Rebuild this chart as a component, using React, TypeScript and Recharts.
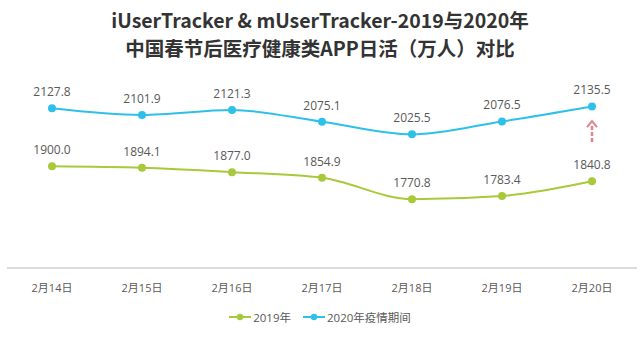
import React from 'react';
import { LineChart, Line, XAxis, YAxis, LabelList, Legend, ReferenceLine } from 'recharts';

const categories = ['2月14日', '2月15日', '2月16日', '2月17日', '2月18日', '2月19日', '2月20日'];
const series2019 = [1900.0, 1894.1, 1877.0, 1854.9, 1770.8, 1783.4, 1840.8];
const series2020 = [2127.8, 2101.9, 2121.3, 2075.1, 2025.5, 2076.5, 2135.5];
const seriesNames = ['2019年', '2020年疫情期间'];
const arrowFrom = 1990;
const arrowTo = 2078;

const data = categories.map((c, i) => ({ name: c, a: series2019[i], b: series2020[i] }));

const GREEN = '#a8c93a';
const BLUE = '#2ec0e8';

const ArrowShape = (props: any) => {
  const { x1, y1, x2, y2 } = props;
  if (x1 == null) return null;
  const top = Math.min(y1, y2);
  const bottom = Math.max(y1, y2);
  return (
    <g>
      <line x1={x1} y1={top + 5} x2={x1} y2={bottom} stroke="#e8808c" strokeWidth={2.5} strokeDasharray="4 2" />
      <path d={`M${x1 - 5},${top + 6} L${x1},${top} L${x1 + 5},${top + 6}`} fill="none" stroke="#e8808c" strokeWidth={2} />
    </g>
  );
};

const renderLegend = () => (
  <div style={{ display: 'flex', justifyContent: 'center', alignItems: 'center', fontSize: 11.5, color: '#595959', fontFamily: '"Open Sans", "Noto Sans CJK SC", sans-serif' }}>
    {[GREEN, BLUE].map((col, i) => (
      <div key={i} style={{ display: 'flex', alignItems: 'center', marginRight: i === 0 ? 12 : 0 }}>
        <svg width={22} height={10}>
          <line x1={0} y1={5} x2={22} y2={5} stroke={col} strokeWidth={2} />
          <circle cx={11} cy={5} r={3.2} fill={col} />
        </svg>
        <span style={{ marginLeft: 2 }}>{seriesNames[i]}</span>
      </div>
    ))}
  </div>
);

export default function App() {
  return (
    <div style={{ position: 'absolute', left: 0, top: 0, width: 640, height: 355, background: '#fff' }}>
      <div style={{ position: 'absolute', top: 6, left: 0, width: 640, textAlign: 'center', fontFamily: '"Noto Sans CJK SC", "Open Sans", sans-serif', fontWeight: 700, fontSize: 19.5, lineHeight: '28px', color: '#333' }}>
        <div>iUserTracker &amp; mUserTracker-2019与2020年</div>
        <div>中国春节后医疗健康类APP日活（万人）对比</div>
      </div>
      <LineChart width={640} height={355} data={data} margin={{ top: 90, right: 3, left: 7, bottom: 41 }}>
        <XAxis dataKey="name" padding={{ left: 45, right: 45 }} axisLine={{ stroke: '#d0d0d0', strokeWidth: 1.5 }} tickLine={false} tick={{ fill: '#595959', fontSize: 11, fontFamily: '"Open Sans", "Noto Sans CJK SC", sans-serif' }} tickMargin={10} height={30} />
        <YAxis hide domain={[1500, 2200]} />
        <ReferenceLine segment={[{ x: '2月20日', y: arrowFrom }, { x: '2月20日', y: arrowTo }]} shape={ArrowShape} />
        <Line type="monotone" dataKey="a" name={seriesNames[0]} stroke={GREEN} strokeWidth={2} dot={{ r: 4, fill: GREEN, stroke: GREEN, strokeWidth: 0 }} isAnimationActive={false}>
          <LabelList dataKey="a" position="top" offset={12} formatter={(v: any) => Number(v).toFixed(1)} style={{ fill: '#595959', fontSize: 12, fontFamily: '"Open Sans", sans-serif' }} />
        </Line>
        <Line type="monotone" dataKey="b" name={seriesNames[1]} stroke={BLUE} strokeWidth={2} dot={{ r: 4, fill: BLUE, stroke: BLUE, strokeWidth: 0 }} isAnimationActive={false}>
          <LabelList dataKey="b" position="top" offset={12} formatter={(v: any) => Number(v).toFixed(1)} style={{ fill: '#595959', fontSize: 12, fontFamily: '"Open Sans", sans-serif' }} />
        </Line>
        <Legend content={renderLegend} wrapperStyle={{ position: 'absolute', top: 309, left: 0, width: 640 }} />
      </LineChart>
    </div>
  );
}
